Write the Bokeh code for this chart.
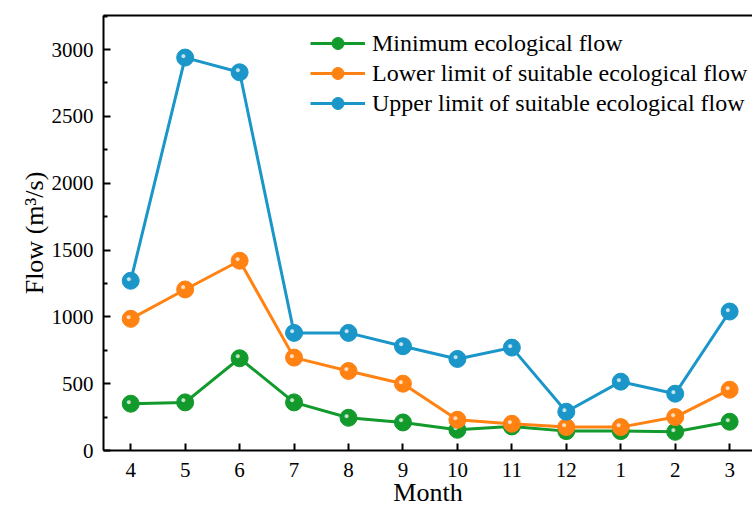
from bokeh.plotting import figure
from bokeh.models import Range1d, FixedTicker, LinearAxis, Legend, LegendItem, ColumnDataSource
from bokeh.core.properties import value
from bokeh.embed import file_html
from bokeh.resources import INLINE

months = ["4", "5", "6", "7", "8", "9", "10", "11", "12", "1", "2", "3"]
minimum_flow = [350, 360, 690, 360, 245, 210, 155, 180, 145, 145, 140, 215]
lower_suitable = [985, 1205, 1420, 695, 595, 500, 230, 200, 175, 175, 250, 455]
upper_suitable = [1270, 2940, 2830, 880, 880, 780, 685, 770, 290, 515, 425, 1040]

series_names = ["Minimum ecological flow",
                "Lower limit of suitable ecological flow",
                "Upper limit of suitable ecological flow"]
series_values = [minimum_flow, lower_suitable, upper_suitable]
series_colors = ["#129a2c", "#ff8212", "#1a96c8"]

FONT = "Liberation Serif"
xs = list(range(len(months)))

p = figure(width=752, height=509, output_backend="svg", toolbar_location=None,
           x_range=Range1d(-0.5, 11.42), y_range=Range1d(0, 3255),
           min_border_left=103, min_border_top=15, min_border_right=0, min_border_bottom=10)
p.outline_line_color = None
p.grid.visible = False
p.background_fill_color = "white"

# x axis
xa = p.xaxis[0]
xa.ticker = FixedTicker(ticks=xs)
xa.major_label_overrides = {i: m for i, m in enumerate(months)}
xa.axis_label = "Month"
# y axis
ya = p.yaxis[0]
ya.ticker = FixedTicker(ticks=[0, 500, 1000, 1500, 2000, 2500, 3000],
                        minor_ticks=[250, 750, 1250, 1750, 2250, 2750, 3250])
ya.axis_label = "Flow (m\u00b3/s)"

for ax in (xa, ya):
    ax.axis_line_width = 2
    ax.axis_line_color = "black"
    ax.major_tick_in = 7
    ax.major_tick_out = 0
    ax.minor_tick_in = 4
    ax.minor_tick_out = 0
    ax.major_tick_line_width = 2
    ax.minor_tick_line_width = 2
    ax.major_label_text_font = FONT
    ax.major_label_text_font_size = "21px"
    ax.major_label_text_color = "black"
    ax.axis_label_text_font = FONT
    ax.axis_label_text_font_size = "26px"
    ax.axis_label_text_font_style = "normal"
    ax.axis_label_text_color = "black"
xa.minor_tick_line_color = None
xa.major_label_standoff = 12
xa.axis_label_standoff = -2
ya.major_label_standoff = 10
ya.axis_label_standoff = 0

# top border as an empty axis without ticks or labels
top = LinearAxis(ticker=FixedTicker(ticks=[]), axis_line_width=2, axis_line_color="black",
                 major_tick_line_color=None, minor_tick_line_color=None,
                 major_tick_in=0, major_tick_out=0, minor_tick_in=0, minor_tick_out=0,
                 major_label_standoff=0)
p.add_layout(top, "above")

items = []
for name, vals, col in zip(series_names, series_values, series_colors):
    src = ColumnDataSource(dict(x=xs, y=vals))
    ln = p.line("x", "y", source=src, line_color=col, line_width=3)
    sc = p.scatter("x", "y", source=src, size=17, fill_color=col, line_color=col, line_width=1)
    p.text("x", "y", source=src, text=value("\u25cf"), text_color="white", text_alpha=0.75,
           text_font_size="9px", x_offset=-2, y_offset=-2,
           text_align="center", text_baseline="middle")
    items.append(LegendItem(label=name, renderers=[ln, sc]))

legend = Legend(items=items, location=(207, 332), padding=0, margin=0, spacing=0,
                glyph_width=55, glyph_height=30, label_height=30, label_standoff=7,
                label_text_font=FONT, label_text_font_size="24px", label_text_color="black",
                border_line_color=None, background_fill_alpha=0)
p.add_layout(legend, "center")

open("out.html", "w").write(file_html(p, INLINE))
